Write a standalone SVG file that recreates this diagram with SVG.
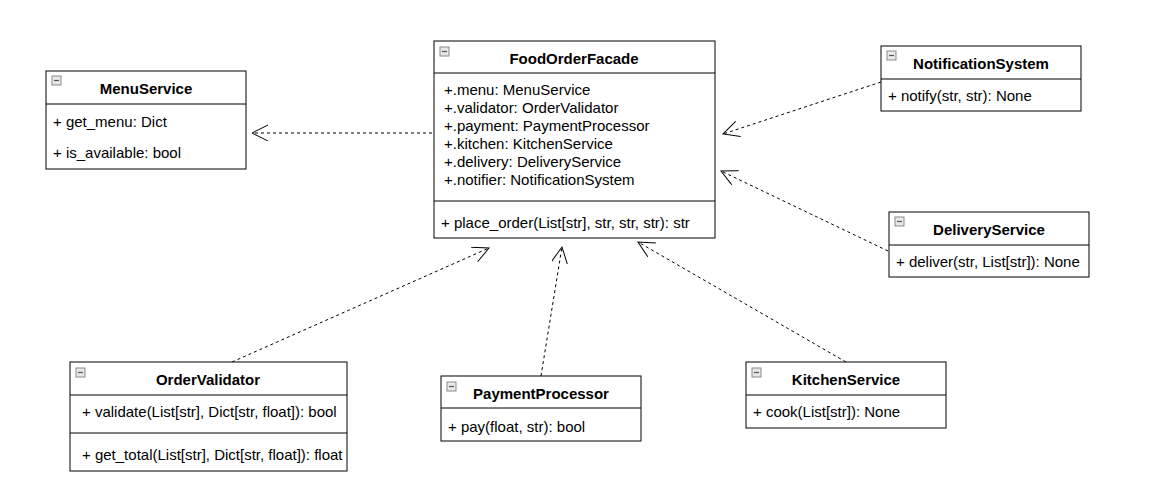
<svg xmlns="http://www.w3.org/2000/svg" width="1149" height="501" viewBox="0 0 1149 501">
<style>
.box{fill:#fff;stroke:#000;stroke-width:1}
.sep{stroke:#000;stroke-width:1}
.t{font-family:"Liberation Sans",Arial,sans-serif;font-size:15px;fill:#000}
.h{font-family:"Liberation Sans",Arial,sans-serif;font-size:15px;font-weight:bold;fill:#000;text-anchor:middle}
.ic{fill:#e8e8e8;stroke:#8a8a8a;stroke-width:1}
.icl{stroke:#555;stroke-width:1.2}
.dep{fill:none;stroke:#000;stroke-width:1;stroke-dasharray:3,3;marker-end:url(#open)}
</style>
<defs>
<marker id="open" markerWidth="20" markerHeight="20" refX="16" refY="8" orient="auto" markerUnits="userSpaceOnUse">
<path d="M0,0 L16,8 L0,16" fill="none" stroke="#000" stroke-width="1"/>
</marker>
<g id="icon"><rect class="ic" x="0" y="0" width="9" height="9"/><line class="icl" x1="2" y1="4.5" x2="7" y2="4.5"/></g>
</defs>
<rect width="1149" height="501" fill="#fff"/>
<g id="connectors">
<line class="dep" x1="432" y1="133" x2="252" y2="133"/>
<line class="dep" x1="881" y1="82" x2="723" y2="134"/>
<line class="dep" x1="888" y1="251" x2="721" y2="171"/>
<line class="dep" x1="232" y1="362" x2="489" y2="248"/>
<line class="dep" x1="541" y1="376" x2="562" y2="247"/>
<line class="dep" x1="846" y1="362" x2="638" y2="242"/>
</g>
<g id="FoodOrderFacade">
<rect class="box" x="434" y="41" width="281" height="197"/>
<line class="sep" x1="434" y1="73" x2="715" y2="73"/>
<line class="sep" x1="434" y1="201" x2="715" y2="201"/>
<use href="#icon" x="440" y="47"/>
<text class="h" x="574" y="64">FoodOrderFacade</text>
<text class="t" x="444" y="95">+.menu: MenuService</text>
<text class="t" x="444" y="113">+.validator: OrderValidator</text>
<text class="t" x="444" y="131">+.payment: PaymentProcessor</text>
<text class="t" x="444" y="149">+.kitchen: KitchenService</text>
<text class="t" x="444" y="167">+.delivery: DeliveryService</text>
<text class="t" x="444" y="185">+.notifier: NotificationSystem</text>
<text class="t" x="441" y="228">+ place_order(List[str], str, str, str): str</text>
</g>
<g id="MenuService">
<rect class="box" x="46" y="71" width="200" height="98"/>
<line class="sep" x1="46" y1="104" x2="246" y2="104"/>
<use href="#icon" x="52" y="76"/>
<text class="h" x="146" y="94">MenuService</text>
<text class="t" x="53" y="127">+ get_menu: Dict</text>
<text class="t" x="53" y="158">+ is_available: bool</text>
</g>
<g id="NotificationSystem">
<rect class="box" x="881" y="46" width="200" height="65"/>
<line class="sep" x1="881" y1="79" x2="1081" y2="79"/>
<use href="#icon" x="887" y="51"/>
<text class="h" x="981" y="69">NotificationSystem</text>
<text class="t" x="888" y="101">+ notify(str, str): None</text>
</g>
<g id="DeliveryService">
<rect class="box" x="889" y="212" width="200" height="65"/>
<line class="sep" x1="889" y1="245" x2="1089" y2="245"/>
<use href="#icon" x="895" y="217"/>
<text class="h" x="989" y="235">DeliveryService</text>
<text class="t" x="896" y="267">+ deliver(str, List[str]): None</text>
</g>
<g id="OrderValidator">
<rect class="box" x="70" y="362" width="277" height="109"/>
<line class="sep" x1="70" y1="395" x2="347" y2="395"/>
<line class="sep" x1="70" y1="433" x2="347" y2="433"/>
<use href="#icon" x="76" y="368"/>
<text class="h" x="208" y="385">OrderValidator</text>
<text class="t" x="82" y="417">+ validate(List[str], Dict[str, float]): bool</text>
<text class="t" x="82" y="460">+ get_total(List[str], Dict[str, float]): float</text>
</g>
<g id="PaymentProcessor">
<rect class="box" x="441" y="376" width="200" height="65"/>
<line class="sep" x1="441" y1="408" x2="641" y2="408"/>
<use href="#icon" x="447" y="382"/>
<text class="h" x="541" y="399">PaymentProcessor</text>
<text class="t" x="448" y="432">+ pay(float, str): bool</text>
</g>
<g id="KitchenService">
<rect class="box" x="746" y="362" width="200" height="66"/>
<line class="sep" x1="746" y1="395" x2="946" y2="395"/>
<use href="#icon" x="752" y="368"/>
<text class="h" x="846" y="385">KitchenService</text>
<text class="t" x="753" y="417">+ cook(List[str]): None</text>
</g>
</svg>
